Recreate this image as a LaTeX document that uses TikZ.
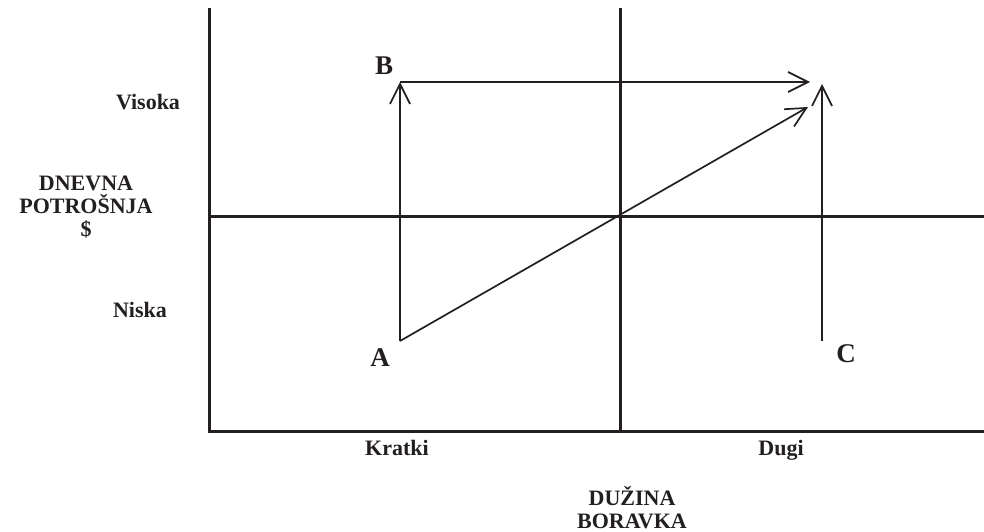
\documentclass[tikz,border=0pt]{standalone}
\usepackage{fontspec}
\setmainfont{Liberation Serif}
\usetikzlibrary{arrows.meta}
\definecolor{ink}{HTML}{231F20}
\begin{document}
\begin{tikzpicture}[x=1pt,y=-1pt,
  axis/.style={draw=ink,line width=3pt},
  conn/.style={draw=ink,line width=1.7pt,-{Straight Barb[length=20pt,width=20pt,line width=1.7pt]}},
  lbl/.style={text=ink,font=\bfseries\fontsize{22}{26}\selectfont,inner sep=0pt,anchor=base},
  pt/.style={text=ink,font=\bfseries\fontsize{27}{30}\selectfont,inner sep=0pt,anchor=base}]
\useasboundingbox[fill=white] (0,0) rectangle (984,532);
% axes
\coordinate (LT) at (209,8);
\coordinate (LB) at (209,431);
\coordinate (RB) at (984,431);
\coordinate (MT) at (620,8);
\coordinate (MB) at (620,431);
\coordinate (ML) at (209,216);
\coordinate (MR) at (984,216);
\draw[axis] (LT) -- (LB) -- (RB);
\draw[axis] (MT) -- (MB);
\draw[axis] (ML) -- (MR);
% points
\coordinate (pA) at (400,341);
\coordinate (pB) at (400,82);
\coordinate (pBend) at (810,82);
\coordinate (pDend) at (808,107);
\coordinate (pC) at (822,341);
\coordinate (pCend) at (822,84);
\draw[conn] (pA) -- (pB);
\draw[conn] (pB) -- (pBend);
\draw[conn] (pA) -- (pDend);
\draw[conn] (pC) -- (pCend);
% labels
\node[pt] (lA) at (380,366) {A};
\node[pt] (lB) at (384,75) {B};
\node[pt] (lC) at (846,362) {C};
\node[lbl] (vis) at (148,110) {Visoka};
\node[lbl] (nis) at (140,317) {Niska};
\node[lbl] (dp1) at (86,190) {DNEVNA};
\node[lbl] (dp2) at (86,213) {POTROŠNJA};
\node[lbl] (dp3) at (86,236) {\$};
\node[lbl] (kr) at (397,455) {Kratki};
\node[lbl] (du) at (781,455) {Dugi};
\node[lbl] (db1) at (632,505) {DUŽINA};
\node[lbl] (db2) at (632,528) {BORAVKA};
\end{tikzpicture}
\end{document}
